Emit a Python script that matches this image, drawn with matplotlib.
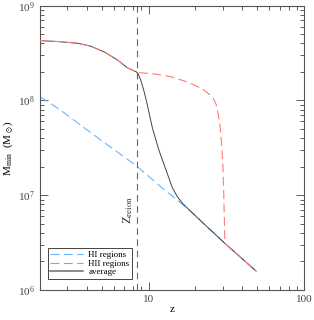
import matplotlib
matplotlib.use("Agg")
import matplotlib.pyplot as plt
from matplotlib.ticker import NullFormatter, FormatStrFormatter

plt.rcParams['font.family'] = ['Liberation Serif', 'DejaVu Serif']
plt.rcParams['mathtext.fontset'] = 'stix'

# --- data ---
z_reion = 8.37

z_hi = [2.0, 2.69, 4.85, 8.34, 11.7, 18.3, 22.0, 31.0, 49.2]
m_hi = [1.10e8, 8.0e7, 3.9e7, 2.05e7, 1.27e7, 6.98e6, 5.24e6, 3.1e6, 1.58e6]

z_hii = [2.0, 2.61, 3.51, 4.25, 5.22, 6.33, 7.33, 8.37, 8.88, 10.8,
         14.0, 17.5, 20.0, 22.5, 24.5, 26.1, 27.3, 28.1, 28.9, 29.4,
         30.0, 30.5, 31.0, 49.2]
m_hii = [4.29e8, 4.19e8, 4.02e8, 3.74e8, 3.24e8, 2.67e8, 2.21e8, 2.00e8,
         1.96e8, 1.91e8, 1.78e8, 1.58e8, 1.44e8, 1.30e8, 1.17e8, 1.05e8,
         9.0e7, 7.15e7, 5.2e7, 3.74e7, 2.32e7, 1.0e7, 3.1e6, 1.58e6]

z_avg = [2.0, 2.61, 3.51, 4.25, 5.22, 6.33, 7.33, 8.37, 8.6, 8.9, 9.3, 9.71,
         10.6, 11.7, 13.0, 14.2, 15.3, 16.5, 18.3, 22.0, 31.0, 49.2]
m_avg = [4.29e8, 4.19e8, 4.02e8, 3.74e8, 3.24e8, 2.67e8, 2.21e8, 2.00e8,
         1.88e8, 1.65e8, 1.3e8, 9.77e7, 5.1e7, 2.94e7, 1.82e7, 1.21e7,
         9.7e6, 8.25e6, 6.98e6, 5.24e6, 3.1e6, 1.58e6]

fig = plt.figure(figsize=(3.14, 3.20), dpi=100)
ax = fig.add_axes([0.127, 0.094, 0.841, 0.888])

ax.plot(z_hi, m_hi, color='#6fb4ff', lw=0.8, dashes=(8, 4), label='HI regions')
ax.plot(z_avg, m_avg, color='#444444', lw=0.7, zorder=3)
ax.plot(z_hii, m_hii, color='#ff7a7a', lw=0.8, dashes=(8, 4),
        label='HII regions', zorder=4)
# keep legend order: HI, HII, average
ax.plot([], [], color='#777777', lw=1.2, label='average')

ax.axvline(z_reion, color='#666666', lw=0.8, dashes=(6, 4))
ax.text(7.34, 7.0e6, r'Z$_{\rm reion}$', rotation=90, ha='center',
        va='center', fontsize=9, color='#333333')

ax.set_xscale('log')
ax.set_yscale('log')
ax.set_xlim(2, 100)
ax.set_ylim(1e6, 1e9)
ax.xaxis.set_major_formatter(FormatStrFormatter('%g'))
ax.xaxis.set_minor_formatter(NullFormatter())

ax.set_xlabel('z', fontsize=8, labelpad=1)
ax.set_ylabel(r'M$_{\rm min}$  (M$_\odot$)', fontsize=8, labelpad=2)

ax.tick_params(which='both', direction='in', top=True, right=True,
               labelsize=8, colors='#444444', width=0.6)
ax.tick_params(which='major', length=6)
ax.tick_params(which='minor', length=3)
for s in ax.spines.values():
    s.set_linewidth(0.8)
    s.set_color('#555555')

leg = ax.legend(loc='lower left', fontsize=6.5, handlelength=3.6,
                fancybox=False, framealpha=1, borderpad=0.3,
                labelspacing=0.05, handletextpad=0.6,
                bbox_to_anchor=(0.012, 0.022))
leg.get_frame().set_edgecolor('#444444')
leg.get_frame().set_linewidth(0.7)

fig.savefig('out.png', dpi=100)
